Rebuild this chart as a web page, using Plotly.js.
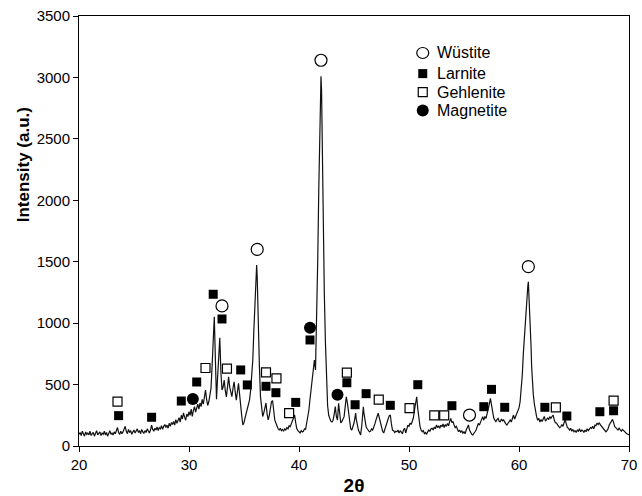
<!DOCTYPE html>
<html>
<head>
<meta charset="utf-8">
<script src="https://cdn.plot.ly/plotly-3.0.1.min.js"></script>
<style>html,body{margin:0;padding:0;background:#fff;}#chart{width:642px;height:496px;}</style>
</head>
<body>
<div id="chart"></div>
<script>
// XRD scan: [2theta, intensity]
const scan = [
[20.0,95],[20.1,110],[20.2,85],[20.3,120],[20.4,100],[20.5,80],[20.6,115],[20.7,95],[20.8,105],[20.9,90],
[21.0,120],[21.1,85],[21.2,100],[21.3,110],[21.4,80],[21.5,105],[21.6,125],[21.7,90],[21.8,100],[21.9,115],
[22.0,85],[22.1,105],[22.2,95],[22.3,120],[22.4,90],[22.5,110],[22.6,80],[22.7,100],[22.8,125],[22.9,95],
[23.0,105],[23.1,90],[23.2,115],[23.3,100],[23.4,130],[23.5,150],[23.6,110],[23.7,95],[23.8,120],[23.9,100],
[24.0,115],[24.1,140],[24.2,160],[24.3,120],[24.4,100],[24.5,135],[24.6,110],[24.7,125],[24.8,95],[24.9,115],
[25.0,130],[25.1,105],[25.2,120],[25.3,140],[25.4,110],[25.5,125],[25.6,100],[25.7,135],[25.8,115],[25.9,105],
[26.0,125],[26.1,110],[26.2,140],[26.3,120],[26.4,105],[26.5,130],[26.6,170],[26.7,135],[26.8,120],[26.9,145],
[27.0,130],[27.1,155],[27.2,125],[27.3,150],[27.4,140],[27.5,165],[27.6,135],[27.7,160],[27.8,175],[27.9,150],
[28.0,170],[28.1,145],[28.2,185],[28.3,160],[28.4,190],[28.5,175],[28.6,200],[28.7,170],[28.8,215],[28.9,185],
[29.0,205],[29.1,230],[29.2,195],[29.3,250],[29.4,220],[29.5,270],[29.6,235],[29.7,210],[29.8,260],[29.9,240],
[30.0,280],[30.1,250],[30.2,300],[30.3,240],[30.4,290],[30.5,320],[30.6,275],[30.7,310],[30.8,340],[30.9,300],
[31.0,350],[31.1,320],[31.2,380],[31.3,340],[31.4,400],[31.5,456],[31.6,380],[31.7,330],[31.8,360],[31.9,420],
[32.0,470],[32.1,650],[32.2,900],[32.3,1052],[32.4,700],[32.5,380],[32.6,560],[32.7,780],[32.8,880],[32.9,600],
[33.0,456],[33.1,480],[33.2,537],[33.3,450],[33.4,400],[33.5,480],[33.6,564],[33.7,480],[33.8,420],[33.9,401],
[34.0,470],[34.1,523],[34.2,440],[34.3,374],[34.4,440],[34.5,510],[34.6,420],[34.7,300],[34.8,239],[34.9,171],
[35.0,190],[35.1,230],[35.2,268],[35.3,300],[35.4,340],[35.5,374],[35.6,450],[35.7,560],[35.8,700],[35.9,950],
[36.0,1200],[36.1,1420],[36.15,1473],[36.2,1380],[36.3,950],[36.4,650],[36.5,400],[36.6,300],[36.7,240],[36.8,270],[36.9,330],
[37.0,350],[37.1,260],[37.2,212],[37.3,250],[37.4,300],[37.5,360],[37.6,370],[37.7,280],[37.8,210],[37.9,187],
[38.0,160],[38.1,140],[38.2,130],[38.3,145],[38.4,125],[38.5,135],[38.6,120],[38.7,140],[38.8,130],[38.9,150],
[39.0,140],[39.1,165],[39.2,157],[39.3,180],[39.4,210],[39.5,240],[39.6,252],[39.7,190],[39.8,140],[39.9,125],
[40.0,110],[40.1,106],[40.2,125],[40.3,115],[40.4,120],[40.5,140],[40.6,135],[40.7,180],[40.8,240],[40.9,293],
[41.0,380],[41.1,470],[41.2,564],[41.3,640],[41.4,700],[41.5,619],[41.6,1000],[41.7,1500],[41.8,2100],[41.9,2700],
[41.95,2950],[42.0,3010],[42.05,2900],[42.1,2500],[42.2,1800],[42.3,1250],[42.4,850],[42.5,513],[42.6,330],[42.7,250],[42.8,212],[42.9,200],
[43.0,195],[43.1,210],[43.2,260],[43.3,320],[43.4,240],[43.5,212],[43.6,347],[43.7,260],[43.8,187],[43.9,200],
[44.0,220],[44.1,239],[44.2,320],[44.3,401],[44.4,350],[44.5,260],[44.6,190],[44.7,140],[44.8,130],[44.9,160],
[45.0,187],[45.1,240],[45.15,268],[45.2,220],[45.3,170],[45.4,130],[45.5,110],[45.6,90],[45.7,160],[45.8,280],[45.85,320],[45.9,270],
[46.0,190],[46.1,157],[46.2,140],[46.3,125],[46.4,116],[46.5,120],[46.6,140],[46.7,130],[46.8,150],[46.9,180],
[47.0,212],[47.1,245],[47.2,268],[47.3,230],[47.4,190],[47.5,160],[47.6,120],[47.7,106],[47.8,140],[47.9,170],
[48.0,190],[48.1,220],[48.2,245],[48.3,252],[48.4,180],[48.5,130],[48.6,125],[48.7,110],[48.8,120],[48.9,116],
[49.0,130],[49.1,105],[49.2,125],[49.3,116],[49.4,100],[49.5,130],[49.6,145],[49.7,106],[49.8,150],[49.9,170],
[50.0,160],[50.1,187],[50.2,175],[50.3,200],[50.4,230],[50.5,293],[50.6,350],[50.7,401],[50.8,300],[50.9,212],
[51.0,160],[51.1,130],[51.2,116],[51.3,125],[51.4,100],[51.5,110],[51.6,95],[51.7,115],[51.8,130],[51.9,120],
[52.0,140],[52.1,144],[52.2,130],[52.3,155],[52.4,140],[52.5,171],[52.6,150],[52.7,165],[52.8,145],[52.9,170],
[53.0,157],[53.1,180],[53.2,150],[53.3,175],[53.4,160],[53.5,184],[53.6,165],[53.7,200],[53.8,225],[53.9,190],
[54.0,200],[54.1,171],[54.2,150],[54.3,160],[54.4,135],[54.5,116],[54.6,130],[54.7,110],[54.8,125],[54.9,105],
[55.0,116],[55.1,100],[55.2,130],[55.3,145],[55.4,171],[55.5,130],[55.6,110],[55.7,95],[55.8,90],[55.9,110],
[56.0,116],[56.1,130],[56.2,150],[56.3,184],[56.4,170],[56.5,200],[56.6,220],[56.7,239],[56.8,210],[56.9,240],
[57.0,225],[57.1,260],[57.2,293],[57.3,340],[57.4,388],[57.5,330],[57.6,266],[57.7,230],[57.8,210],[57.9,198],
[58.0,215],[58.1,225],[58.2,200],[58.3,198],[58.4,220],[58.5,205],[58.6,212],[58.7,190],[58.8,180],[58.9,171],
[59.0,185],[59.1,200],[59.2,212],[59.3,195],[59.4,230],[59.5,252],[59.6,220],[59.7,245],[59.8,270],[59.9,290],
[60.0,310],[60.1,360],[60.2,450],[60.3,580],[60.4,760],[60.5,917],[60.6,1080],[60.7,1188],[60.8,1300],[60.85,1337],[60.9,1250],
[61.0,1052],[61.1,800],[61.15,645],[61.2,540],[61.3,420],[61.4,340],[61.5,270],[61.6,239],[61.7,210],[61.8,225],[61.9,195],
[62.0,215],[62.1,200],[62.2,221],[62.3,240],[62.4,205],[62.5,212],[62.6,230],[62.7,215],[62.8,239],[62.9,225],
[63.0,240],[63.1,252],[63.2,215],[63.3,190],[63.4,187],[63.5,170],[63.6,160],[63.7,150],[63.8,157],[63.9,175],
[64.0,160],[64.1,190],[64.2,212],[64.3,180],[64.4,150],[64.5,144],[64.6,130],[64.7,145],[64.8,120],[64.9,135],
[65.0,116],[65.1,125],[65.2,110],[65.3,130],[65.4,120],[65.5,140],[65.6,115],[65.7,130],[65.8,125],[65.9,110],
[66.0,130],[66.1,116],[66.2,140],[66.3,125],[66.4,135],[66.5,150],[66.6,144],[66.7,160],[66.8,140],[66.9,170],
[67.0,165],[67.1,187],[67.2,175],[67.3,190],[67.4,171],[67.5,160],[67.6,157],[67.7,140],[67.8,130],[67.9,116],
[68.0,125],[68.1,140],[68.2,171],[68.3,185],[68.4,200],[68.5,217],[68.6,190],[68.7,157],[68.8,150],[68.9,135],
[69.0,130],[69.1,145],[69.2,130],[69.3,120],[69.4,135],[69.5,125],[69.6,116],[69.7,110],[69.8,100],[69.9,95],[70.0,90]
];
const twoTheta = scan.map(p => p[0]);
const intensity = scan.map(p => p[1]);

// Phase markers
const wustiteX = [33.0, 36.2, 42.0, 55.5, 60.85];
const wustiteY = [1140, 1600, 3140, 252, 1460];
const larniteX = [23.6, 26.6, 29.3, 30.7, 32.2, 33.0, 34.7, 35.3, 37.0, 37.9, 39.7, 41.0, 44.35, 45.1, 46.1, 48.3, 50.8, 53.9, 56.8, 57.5, 58.7, 62.35, 64.35, 67.35, 68.6];
const larniteY = [247, 234, 366, 521, 1235, 1034, 619, 497, 486, 434, 355, 863, 515, 336, 426, 331, 499, 328, 320, 461, 315, 315, 244, 279, 287];
const gehleniteX = [23.5, 31.5, 33.45, 37.0, 37.95, 39.1, 44.35, 47.25, 50.05, 52.3, 53.2, 63.35, 68.6];
const gehleniteY = [361, 635, 629, 600, 551, 268, 597, 377, 309, 250, 250, 315, 369];
const magnetiteX = [30.35, 41.0, 43.5];
const magnetiteY = [383, 963, 418];

const phaseNames = ['Wüstite', 'Larnite', 'Gehlenite', 'Magnetite'];
const xTicks = [20, 30, 40, 50, 60, 70];
const yTicks = [0, 500, 1000, 1500, 2000, 2500, 3000, 3500];

const font = 'Liberation Sans, Arial, sans-serif';

const phaseStyles = [
  {symbol: 'circle-open', size: 12, color: '#000', line: {width: 1.2, color: '#000'}},
  {symbol: 'square', size: 9, color: '#000'},
  {symbol: 'square-open', size: 9, color: '#000', line: {width: 1.2, color: '#000'}},
  {symbol: 'circle', size: 12, color: '#000'}
];
const phaseX = [wustiteX, larniteX, gehleniteX, magnetiteX];
const phaseY = [wustiteY, larniteY, gehleniteY, magnetiteY];

const traces = [
  {x: twoTheta, y: intensity, type: 'scatter', mode: 'lines', line: {color: '#111', width: 1.2}, showlegend: false, hoverinfo: 'skip'}
];
phaseNames.forEach((n, i) => traces.push({
  x: phaseX[i], y: phaseY[i], type: 'scatter', mode: 'markers', name: n, showlegend: false, marker: phaseStyles[i]
}));

// hand-drawn legend (paper coords) to match the compact spacing of the original
const legSymX = 0.625, legTextX = 0.648;
const legRowY = [0.914, 0.866, 0.823, 0.780];
const shapes = [];
const annotations = [];
const legShape = [
  {type: 'circle', w: 6, h: 5.5, fill: 'rgba(0,0,0,0)', lw: 1.2},
  {type: 'rect', w: 4.5, h: 4.5, fill: '#000', lw: 0},
  {type: 'rect', w: 4.5, h: 4.5, fill: 'rgba(0,0,0,0)', lw: 1.2},
  {type: 'circle', w: 6, h: 6, fill: '#000', lw: 0}
];
phaseNames.forEach((n, i) => {
  const s = legShape[i];
  shapes.push({type: s.type, xref: 'paper', yref: 'paper', xsizemode: 'pixel', ysizemode: 'pixel',
    xanchor: legSymX, yanchor: legRowY[i], x0: -s.w, x1: s.w, y0: -s.h, y1: s.h,
    fillcolor: s.fill, line: {color: '#000', width: s.lw}});
  annotations.push({xref: 'paper', yref: 'paper', x: legTextX, y: legRowY[i], xanchor: 'left', yanchor: 'middle',
    text: n, showarrow: false, font: {family: font, size: 16, color: '#000'}});
});
// y-axis title, placed as in the original (above the axis centre)
annotations.push({xref: 'paper', yref: 'paper', x: -0.102, y: 0.655, xanchor: 'center', yanchor: 'middle',
  textangle: -90, text: '<b>Intensity (a.u.)</b>', showarrow: false, font: {family: font, size: 17, color: '#000'}});

const layout = {
  width: 642, height: 496,
  margin: {l: 79, r: 13, t: 16, b: 50},
  paper_bgcolor: '#fff', plot_bgcolor: '#fff',
  font: {family: font, color: '#000', size: 15},
  showlegend: false,
  shapes: shapes,
  annotations: annotations,
  xaxis: {range: [20, 70], tickvals: xTicks, ticktext: xTicks.map(String), ticks: 'outside', ticklen: 5,
          tickcolor: '#000', showline: true, mirror: true, linecolor: '#000', linewidth: 1,
          showgrid: false, zeroline: false, tickfont: {size: 15},
          title: {text: '<b>2θ</b>', font: {size: 19}, standoff: 8}},
  yaxis: {range: [0, 3500], tickvals: yTicks, ticktext: yTicks.map(String), ticks: 'outside', ticklen: 5,
          tickcolor: '#000', showline: true, mirror: true, linecolor: '#000', linewidth: 1,
          showgrid: false, zeroline: false, tickfont: {size: 15}}
};

Plotly.newPlot('chart', traces, layout, {staticPlot: true, displayModeBar: false});
</script>
</body>
</html>
